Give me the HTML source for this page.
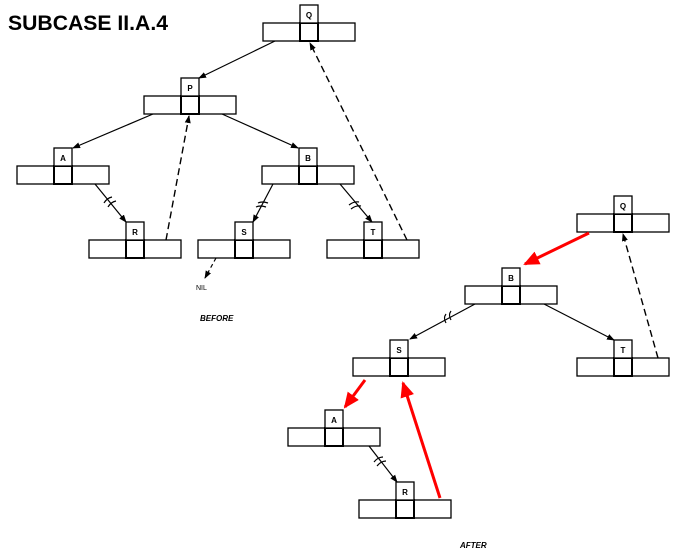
<!DOCTYPE html>
<html><head><style>
html,body{margin:0;padding:0;background:#fff;}
svg{display:block;}
text{font-family:"Liberation Sans",sans-serif;}
</style></head><body>
<svg width="700" height="560" viewBox="0 0 700 560" xmlns="http://www.w3.org/2000/svg">
<defs>
<marker id="ah" markerWidth="8" markerHeight="8" refX="7" refY="4" orient="auto" markerUnits="userSpaceOnUse"><path d="M0,1 L8,4 L0,7 Z" fill="#000"/></marker>
<marker id="rh" markerWidth="16" markerHeight="14" refX="14" refY="7" orient="auto" markerUnits="userSpaceOnUse"><path d="M0,0 L16,7 L0,14 Z" fill="#f00"/></marker>
<g id="node">
<rect x="-46" y="0" width="92" height="18" fill="#fff" stroke="#000" stroke-width="1.3"/>
<rect x="-9" y="0" width="18" height="18" fill="#fff" stroke="#000" stroke-width="2"/>
<rect x="-9" y="-18" width="18" height="18" fill="#fff" stroke="#000" stroke-width="1.3"/>
</g>
</defs>
<text x="8" y="30" font-size="21" font-weight="bold" textLength="160" lengthAdjust="spacingAndGlyphs">SUBCASE II.A.4</text>

<!-- BEFORE nodes -->
<g><use href="#node" x="309" y="23"/><text x="309" y="18" font-size="8" font-weight="bold" text-anchor="middle">Q</text></g>
<g><use href="#node" x="190" y="96"/><text x="190" y="91" font-size="8" font-weight="bold" text-anchor="middle">P</text></g>
<g><use href="#node" x="63" y="166"/><text x="63" y="161" font-size="8" font-weight="bold" text-anchor="middle">A</text></g>
<g><use href="#node" x="308" y="166"/><text x="308" y="161" font-size="8" font-weight="bold" text-anchor="middle">B</text></g>
<g><use href="#node" x="135" y="240"/><text x="135" y="235" font-size="8" font-weight="bold" text-anchor="middle">R</text></g>
<g><use href="#node" x="244" y="240"/><text x="244" y="235" font-size="8" font-weight="bold" text-anchor="middle">S</text></g>
<g><use href="#node" x="373" y="240"/><text x="373" y="235" font-size="8" font-weight="bold" text-anchor="middle">T</text></g>

<g stroke="#000" stroke-width="1.2" fill="none">
<line x1="275" y1="41" x2="199" y2="78" marker-end="url(#ah)"/>
<line x1="153" y1="114" x2="73" y2="148" marker-end="url(#ah)"/>
<line x1="222" y1="114" x2="298" y2="148" marker-end="url(#ah)"/>
<line x1="95" y1="184" x2="126" y2="222" marker-end="url(#ah)"/>
<line x1="273" y1="184" x2="253" y2="222" marker-end="url(#ah)"/>
<line x1="340" y1="184" x2="372" y2="222" marker-end="url(#ah)"/>
<line x1="166" y1="240" x2="189" y2="116" stroke-width="1.4" stroke-dasharray="7,4" marker-end="url(#ah)"/>
<line x1="407" y1="240" x2="310" y2="43" stroke-width="1.4" stroke-dasharray="7,4" marker-end="url(#ah)"/>
<line x1="216" y1="258" x2="205" y2="278" stroke-dasharray="4,3" marker-end="url(#ah)"/>
<path d="M104,203 q3,-5 8,-6 M108,207 q3,-5 8,-6"/>
<path d="M258,203 q4,-2 10,0 M256,207 q4,-2 10,0"/>
<path d="M349,205 q5,-4 10,-3 M351,209 q5,-4 10,-3"/>
</g>
<text x="196" y="290" font-size="7">NIL</text>
<text x="200" y="321" font-size="8" font-weight="bold" font-style="italic">BEFORE</text>

<!-- AFTER nodes -->
<g><use href="#node" x="623" y="214"/><text x="623" y="209" font-size="8" font-weight="bold" text-anchor="middle">Q</text></g>
<g><use href="#node" x="511" y="286"/><text x="511" y="281" font-size="8" font-weight="bold" text-anchor="middle">B</text></g>
<g><use href="#node" x="399" y="358"/><text x="399" y="353" font-size="8" font-weight="bold" text-anchor="middle">S</text></g>
<g><use href="#node" x="623" y="358"/><text x="623" y="353" font-size="8" font-weight="bold" text-anchor="middle">T</text></g>
<g><use href="#node" x="334" y="428"/><text x="334" y="423" font-size="8" font-weight="bold" text-anchor="middle">A</text></g>
<g><use href="#node" x="405" y="500"/><text x="405" y="495" font-size="8" font-weight="bold" text-anchor="middle">R</text></g>

<g stroke="#000" stroke-width="1.2" fill="none">
<line x1="475" y1="304" x2="410" y2="339" marker-end="url(#ah)"/>
<line x1="544" y1="304" x2="614" y2="340" marker-end="url(#ah)"/>
<line x1="369" y1="446" x2="397" y2="482" marker-end="url(#ah)"/>
<line x1="658" y1="358" x2="623" y2="234" stroke-width="1.4" stroke-dasharray="7,4" marker-end="url(#ah)"/>
<path d="M446,314 q-3,4 0,9 M451,311 q-3,4 0,9"/>
<path d="M374,462 q4,-5 9,-5 M377,466 q4,-5 9,-5"/>
</g>
<g stroke="#f00" stroke-width="3" fill="none">
<line x1="589" y1="233" x2="525" y2="264" marker-end="url(#rh)"/>
<line x1="365" y1="380" x2="345" y2="407" marker-end="url(#rh)"/>
<line x1="440" y1="498" x2="403" y2="383" marker-end="url(#rh)"/>
</g>
<text x="460" y="548" font-size="8" font-weight="bold" font-style="italic">AFTER</text>
</svg>
</body></html>
